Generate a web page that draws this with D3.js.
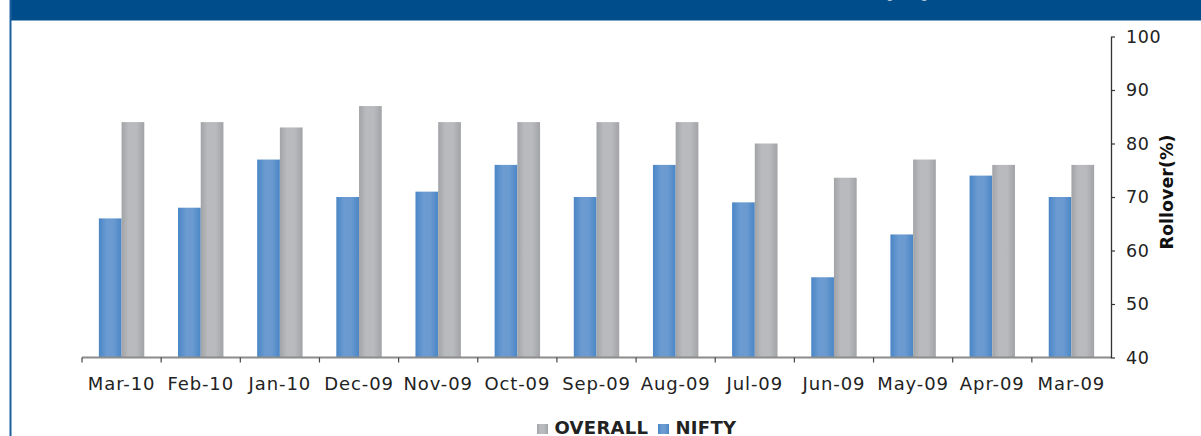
<!DOCTYPE html>
<html><head><meta charset="utf-8">
<script src="https://cdn.jsdelivr.net/npm/d3@7"></script>
<style>html,body{margin:0;padding:0;background:#fff;overflow:hidden}</style>
</head><body>
<script>
const categories = ["Mar-10","Feb-10","Jan-10","Dec-09","Nov-09","Oct-09","Sep-09","Aug-09","Jul-09","Jun-09","May-09","Apr-09","Mar-09"];
const nifty   = [66, 68, 77, 70, 71, 76, 70, 76, 69, 55, 63, 74, 70];
const overall = [84, 84, 83, 87, 84, 84, 84, 84, 80, 73.6, 77, 76, 76];
const yTicks = [40, 50, 60, 70, 80, 90, 100];
const seriesNames = ["NIFTY", "OVERALL"];
const legendOrder = ["OVERALL", "NIFTY"];
const titleText = "NIFTY VS MARKETWIDE ROLLOVER (%)";

const W = 1201, H = 436;
const FONT = "DejaVu Sans";
const svg = d3.select("body").append("svg").attr("width", W).attr("height", H);

const defs = svg.append("defs");
function grad(id, stops) {
  const g = defs.append("linearGradient").attr("id", id).attr("x1", "0%").attr("x2", "100%").attr("y1", "0%").attr("y2", "0%");
  stops.forEach(s => g.append("stop").attr("offset", s[0]).attr("stop-color", s[1]));
}
grad("gBlue", [["0%", "#4a86c6"], ["35%", "#6b9bd1"], ["65%", "#6a9ad0"], ["100%", "#4a86c6"]]);
grad("gGray", [["0%", "#a2a3a6"], ["30%", "#b9babd"], ["65%", "#b9babd"], ["100%", "#a2a3a6"]]);
const fills = { NIFTY: "url(#gBlue)", OVERALL: "url(#gGray)" };

// header band and left border
svg.append("rect").attr("x", 10).attr("y", 0).attr("width", W - 10).attr("height", 20.5).attr("fill", "#004d8c");
svg.append("rect").attr("x", 9.5).attr("y", 0).attr("width", 2).attr("height", H).attr("fill", "#1c5e9e");
svg.append("text").attr("x", 650).attr("y", -3).attr("text-anchor", "middle")
  .attr("font-family", FONT).attr("font-weight", "bold").attr("font-size", 26)
  .attr("fill", "#c8d4e4").text(titleText);

const x0 = d3.scaleBand().domain(categories).range([82, 1111]).paddingInner(0).paddingOuter(0);
const x1 = d3.scaleBand().domain(seriesNames).range([0, x0.bandwidth()]).paddingInner(0).paddingOuter(0.743);
const y = d3.scaleLinear().domain([40, 100]).range([357.5, 36.5]);

const data = categories.map((c, i) => ({ cat: c, NIFTY: nifty[i], OVERALL: overall[i] }));

const groups = svg.append("g").selectAll("g").data(data).join("g")
  .attr("transform", d => `translate(${x0(d.cat)},0)`);
groups.selectAll("rect").data(d => seriesNames.map(k => ({ key: k, value: d[k] }))).join("rect")
  .attr("x", d => x1(d.key))
  .attr("width", x1.bandwidth())
  .attr("y", d => y(d.value))
  .attr("height", d => y(40) - y(d.value))
  .attr("fill", d => fills[d.key]);

// x axis
const xAxis = svg.append("g").attr("transform", `translate(0,${y(40)})`);
xAxis.append("line").attr("x1", 82).attr("x2", 1111).attr("y1", 0).attr("y2", 0)
  .attr("stroke", "#8c8c8c").attr("stroke-width", 2);
const boundaries = categories.map(c => x0(c));
xAxis.selectAll("line.tk").data(boundaries).join("line").attr("class", "tk")
  .attr("x1", d => d).attr("x2", d => d).attr("y1", 0).attr("y2", 5)
  .attr("stroke", "#444").attr("stroke-width", 1.2);
xAxis.selectAll("text").data(categories).join("text")
  .attr("x", d => x0(d) + x0.bandwidth() / 2).attr("y", 32.5)
  .attr("text-anchor", "middle")
  .attr("font-family", FONT).attr("font-size", 18).attr("letter-spacing", 0.9)
  .attr("fill", "#222").text(d => d);

// right y axis
const yAxis = svg.append("g").attr("transform", "translate(1111,0)")
  .call(d3.axisRight(y).tickValues(yTicks).tickSize(4).tickPadding(11).tickSizeOuter(0));
yAxis.select(".domain").attr("stroke", "#333").attr("stroke-width", 1.3);
yAxis.selectAll(".tick line").attr("stroke", "#333").attr("stroke-width", 1.2);
yAxis.selectAll(".tick text").attr("font-family", FONT)
  .attr("font-size", 17.5).attr("letter-spacing", 0.6).attr("fill", "#222");

svg.append("text").attr("transform", "translate(1173,192) rotate(-90)")
  .attr("text-anchor", "middle")
  .attr("font-family", FONT).attr("font-weight", "bold").attr("font-size", 17.5)
  .attr("fill", "#111").text("Rollover(%)");

// legend
const legendX = { OVERALL: 537, NIFTY: 658 };
const lg = svg.append("g");
legendOrder.forEach(k => {
  lg.append("rect").attr("x", legendX[k]).attr("y", 424).attr("width", 11).attr("height", 10).attr("fill", fills[k]);
  lg.append("text").attr("x", legendX[k] + 17.5).attr("y", 434)
    .attr("font-family", FONT).attr("font-weight", "bold").attr("font-size", 18).attr("letter-spacing", 0.3)
    .attr("fill", "#222").text(k);
});
</script>
</body></html>
